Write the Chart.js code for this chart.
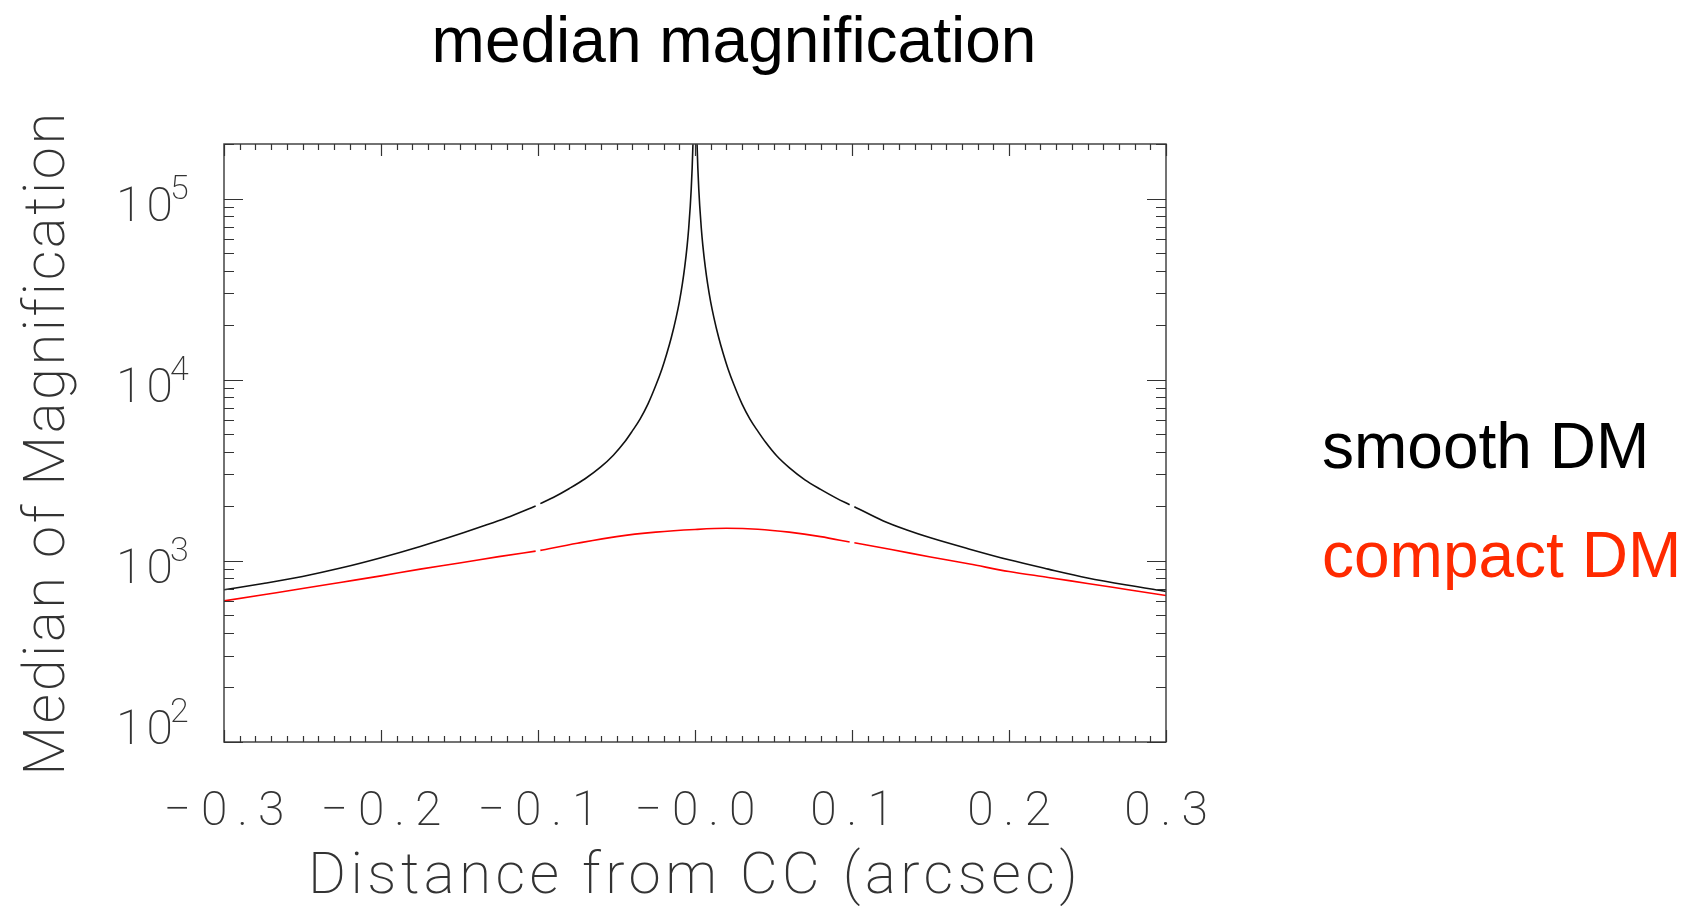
<!DOCTYPE html>
<html>
<head>
<meta charset="utf-8">
<title>median magnification</title>
<script src="https://cdn.jsdelivr.net/npm/chart.js@4.4.1/dist/chart.umd.min.js"></script>
<style>
  html, body { margin: 0; padding: 0; background: #fff; }
  #wrap { width: 1692px; height: 906px; }
</style>
</head>
<body>
<div id="wrap"><canvas id="magChart" width="1692" height="906"></canvas></div>
<script>
// smooth DM: median magnification vs distance from the critical curve
var smoothX = [-0.3, -0.275, -0.25, -0.225, -0.2, -0.175, -0.15, -0.135, -0.12, -0.1015, -0.1, -0.0985,
	-0.09, -0.08, -0.07, -0.06, -0.052, -0.045, -0.04, -0.035, -0.03, -0.025, -0.021, -0.018,
	-0.015, -0.012, -0.01, -0.008, -0.0065, -0.005, -0.004, -0.003, -0.0024, -0.0018, -0.0013, -0.001,
	0,
	0.001, 0.0013, 0.0018, 0.0024, 0.003, 0.004, 0.005, 0.0065, 0.008, 0.01, 0.012, 0.015,
	0.018, 0.021, 0.025, 0.03, 0.035, 0.04, 0.045, 0.052, 0.06, 0.07, 0.08, 0.09,
	0.0985, 0.1, 0.1015, 0.12, 0.135, 0.15, 0.175, 0.2, 0.225, 0.25, 0.275, 0.3];
var smoothY = [692, 750, 820, 915, 1040, 1200, 1405, 1555, 1730, 2010, null, 2070,
	2245, 2510, 2840, 3300, 3830, 4510, 5200, 6060, 7330, 9280, 11500, 13900,
	17200, 22100, 26800, 34000, 42200, 55000, 68800, 91300, 113000, 148000, 200000, 255000,
	400000,
	255000, 200000, 148000, 113000, 91300, 68800, 55000, 42200, 34000, 26800, 22100, 17200,
	13900, 11500, 9280, 7330, 6060, 5200, 4510, 3800, 3270, 2800, 2480, 2220,
	2040, null, 1990, 1660, 1480, 1340, 1160, 1013, 900, 805, 735, 678];

// compact DM
var compactX = [-0.3, -0.275, -0.25, -0.225, -0.2, -0.175, -0.15, -0.125, -0.1015, -0.1, -0.0985,
	-0.075, -0.05, -0.025, 0, 0.02, 0.04, 0.06, 0.08, 0.0985, 0.1, 0.1015,
	0.125, 0.15, 0.175, 0.2, 0.225, 0.25, 0.275, 0.3];
var compactY = [601, 650, 703, 762, 826, 900, 972, 1055, 1132, null, 1142,
	1250, 1361, 1440, 1490, 1512, 1495, 1440, 1360, 1270, null, 1258,
	1155, 1050, 960, 873, 810, 750, 695, 644];

var seriesNames = ['smooth DM', 'compact DM'];

// axis ticks
var xTickValues = [-0.3, -0.2, -0.1, 0, 0.1, 0.2, 0.3];
var xTickLabels = ['\u22120.3', '\u22120.2', '\u22120.1', '\u22120.0', '0.1', '0.2', '0.3'];
var yTickValues = [100, 1000, 10000, 100000];
var yTickExps = ['2', '3', '4', '5'];

var chartTitle = 'median magnification';
var xTitle = 'Distance from CC (arcsec)';
var yTitle = 'Median of Magnification';

function toPoints(xs, ys) {
	var pts = [];
	for (var i = 0; i < xs.length; i++) pts.push({ x: xs[i], y: ys[i] });
	return pts;
}

var thinFont = 'Roboto';
var legendColors = ['#000000', '#ff2a00'];

// frame, inward tick marks and all the text around the plot
var decorations = {
	id: 'decorations',
	afterDraw: function(chart) {
		var ctx = chart.ctx, a = chart.chartArea;
		var xs = chart.scales.x, ys = chart.scales.y;
		ctx.save();

		ctx.strokeStyle = '#444';
		ctx.lineWidth = 1.5;
		ctx.strokeRect(a.left, a.top, a.right - a.left, a.bottom - a.top);

		// x ticks every 0.01, longer every 0.1, top and bottom
		ctx.strokeStyle = '#333';
		ctx.lineWidth = 1.2;
		ctx.beginPath();
		for (var i = 0; i <= 60; i++) {
			var px = Math.round(xs.getPixelForValue(-0.3 + i * 0.01)) + 0.5;
			var len = (i % 10 === 0) ? 12 : 6;
			ctx.moveTo(px, a.bottom); ctx.lineTo(px, a.bottom - len);
			ctx.moveTo(px, a.top); ctx.lineTo(px, a.top + len);
		}
		// log y ticks, left and right
		for (var d = 2; d <= 5; d++) {
			for (var m = 1; m <= 9; m++) {
				var val = m * Math.pow(10, d);
				if (val > ys.max) break;
				var py = Math.round(ys.getPixelForValue(val)) + 0.5;
				var l = (m === 1) ? 19 : 10;
				ctx.moveTo(a.left, py); ctx.lineTo(a.left + l, py);
				ctx.moveTo(a.right, py); ctx.lineTo(a.right - l, py);
			}
		}
		ctx.stroke();

		ctx.fillStyle = '#333';
		ctx.textBaseline = 'alphabetic';

		// x tick labels
		ctx.font = '200 48px ' + thinFont;
		ctx.letterSpacing = '10px';
		ctx.textAlign = 'center';
		for (var k = 0; k < xTickValues.length; k++) {
			ctx.fillText(xTickLabels[k], xs.getPixelForValue(xTickValues[k]) + 5, 825);
		}

		// y tick labels: 10 with a raised exponent
		for (var j = 0; j < yTickValues.length; j++) {
			var ty = ys.getPixelForValue(yTickValues[j]);
			var base = Math.min(ty + 22, a.bottom + 2);
			ctx.textAlign = 'left';
			ctx.font = '200 48px ' + thinFont;
			ctx.letterSpacing = '4px';
			ctx.fillText('10', 116, base);
			ctx.font = '200 34px ' + thinFont;
			ctx.letterSpacing = '0px';
			ctx.fillText(yTickExps[j], 170, base - 22);
		}

		// axis titles
		ctx.font = '200 58px ' + thinFont;
		ctx.letterSpacing = '4.5px';
		ctx.textAlign = 'center';
		ctx.fillText(xTitle, (a.left + a.right) / 2, 893);

		ctx.save();
		ctx.translate(64, (a.top + a.bottom) / 2);
		ctx.rotate(-Math.PI / 2);
		ctx.letterSpacing = '2.5px';
		ctx.fillText(yTitle, 0, 0);
		ctx.restore();

		// title and legend text
		ctx.letterSpacing = '0px';
		ctx.fillStyle = '#000';
		ctx.font = '64px "Liberation Sans", Arial, sans-serif';
		ctx.textAlign = 'center';
		ctx.fillText(chartTitle, 734, 62);

		ctx.textAlign = 'left';
		ctx.fillStyle = legendColors[0];
		ctx.fillText(seriesNames[0], 1322, 468);
		ctx.fillStyle = legendColors[1];
		ctx.fillText(seriesNames[1], 1322, 577);

		ctx.restore();
	}
};

var ctx = document.getElementById('magChart').getContext('2d');
var magChart = new Chart(ctx, {
	type : 'line',
	data : {
		datasets : [ {
			label : seriesNames[0],
			data : toPoints(smoothX, smoothY),
			borderColor : '#111111',
			borderWidth : 1.6,
			pointRadius : 0,
			cubicInterpolationMode : 'monotone',
			spanGaps : false
		}, {
			label : seriesNames[1],
			data : toPoints(compactX, compactY),
			borderColor : '#ff0000',
			borderWidth : 1.6,
			pointRadius : 0,
			cubicInterpolationMode : 'monotone',
			spanGaps : false
		} ]
	},
	options : {
		responsive : false,
		animation : false,
		devicePixelRatio : 1,
		layout : {
			padding : { left : 0, top : 144, right : 526, bottom : 0 }
		},
		plugins : {
			legend : { display : false },
			title : { display : false },
			tooltip : { enabled : false }
		},
		scales : {
			x : {
				type : 'linear',
				min : -0.3,
				max : 0.3,
				grid : { display : false },
				border : { display : false },
				ticks : { display : false },
				afterFit : function(scale) { scale.height = 164; }
			},
			y : {
				type : 'logarithmic',
				min : 100,
				max : 200000,
				grid : { display : false },
				border : { display : false },
				ticks : { display : false },
				afterFit : function(scale) { scale.width = 224; }
			}
		}
	},
	plugins : [ decorations ]
});
</script>
</body>
</html>
